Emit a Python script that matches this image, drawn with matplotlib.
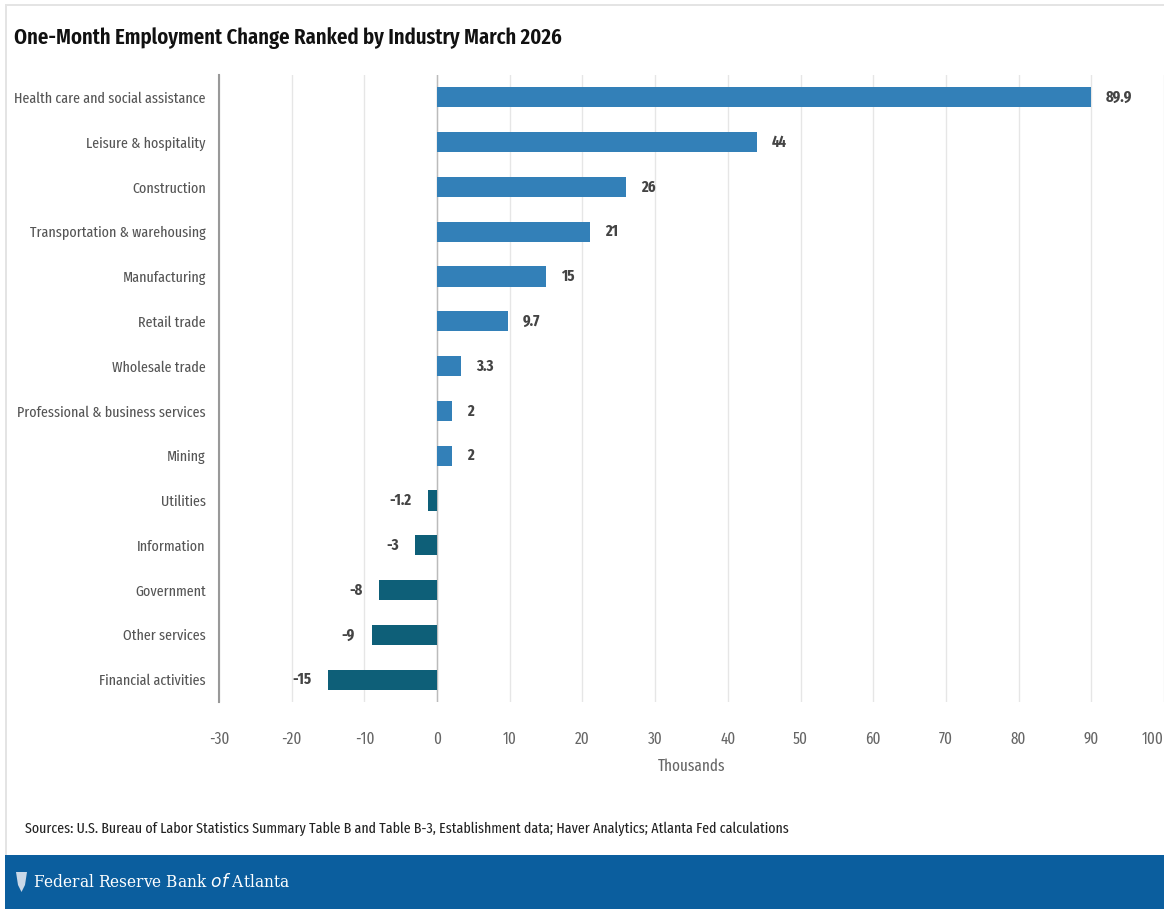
import matplotlib
matplotlib.use("Agg")
import matplotlib.pyplot as plt
from matplotlib.patches import Rectangle, Polygon

categories = ["Health care and social assistance", "Leisure & hospitality", "Construction",
              "Transportation & warehousing", "Manufacturing", "Retail trade", "Wholesale trade",
              "Professional & business services", "Mining", "Utilities", "Information",
              "Government", "Other services", "Financial activities"]
values = [89.9, 44, 26, 21, 15, 9.7, 3.3, 2, 2, -1.2, -3, -8, -9, -15]
value_labels = ["89.9", "44", "26", "21", "15", "9.7", "3.3", "2", "2", "-1.2", "-3", "-8", "-9", "-15"]
xticks = [-30, -20, -10, 0, 10, 20, 30, 40, 50, 60, 70, 80, 90, 100]

NARROW = ["Fira Sans Extra Condensed", "DejaVu Sans"]

W, H = 1164, 909
fig = plt.figure(figsize=(W / 100, H / 100), dpi=100)
fig.patch.set_facecolor("white")

ax = fig.add_axes([219 / W, 1 - 702 / H, (1164 - 219) / W, (702 - 75) / H])
pos_c = "#3380b8"
neg_c = "#0e5f78"
colors = [pos_c if v >= 0 else neg_c for v in values]
ypos = list(range(len(categories)))
ax.barh(ypos, values, height=0.45, color=colors, zorder=3)
ax.set_ylim(len(categories) - 0.5, -0.5)
ax.set_xlim(-30, 100)
ax.set_xticks(xticks)
ax.set_xticklabels([str(t) for t in xticks], family=NARROW, fontsize=11.8, color="#666666")
ax.get_xticklabels()[-1].set_horizontalalignment("right")
ax.tick_params(axis="x", length=0, pad=21)
ax.set_yticks(ypos)
ax.set_yticklabels(categories, family=NARROW, fontsize=11.0, color="#555555")
ax.tick_params(axis="y", length=0, pad=9.5)
ax.grid(axis="x", color="#e6e6e6", linewidth=1, zorder=0)
ax.axvline(0, color="#bbbbbb", linewidth=1, zorder=2)
for s in ["top", "right", "bottom"]:
    ax.spines[s].set_visible(False)
ax.spines["left"].set_color("#999999")
ax.spines["left"].set_linewidth(1.5)
ax.set_xlabel("Thousands", family=NARROW, fontsize=11.8, color="#666666", labelpad=8)

for y, v, lab in zip(ypos, values, value_labels):
    if v >= 0:
        ax.annotate(lab, (v, y), xytext=(11, 0), textcoords="offset points", ha="left", va="center",
                    family=NARROW, fontsize=11.5, fontweight="bold", color="#444444")
    else:
        ax.annotate(lab, (v, y), xytext=(-12, 0), textcoords="offset points", ha="right", va="center",
                    family=NARROW, fontsize=11.5, fontweight="bold", color="#444444")

fig.text(14 / W, 1 - 38 / H, "One-Month Employment Change Ranked by Industry March 2026",
         family=NARROW, fontsize=16.2, fontweight="semibold", color="#111111", va="center", ha="left")

fig.text(25 / W, 1 - 829 / H,
         "Sources: U.S. Bureau of Labor Statistics Summary Table B and Table B-3, Establishment data; Haver Analytics; Atlanta Fed calculations",
         family=NARROW, fontsize=10.9, color="#222222", va="center", ha="left")

# frame lines
fig.add_artist(Rectangle((5 / W, 0), 0.002, 1 - 6 / H, transform=fig.transFigure,
                         facecolor="#e4e4e4", edgecolor="none"))
fig.add_artist(Rectangle((5 / W, 1 - 6 / H), 1, 2 / H, transform=fig.transFigure,
                         facecolor="#e4e4e4", edgecolor="none"))
# footer band
fig.add_artist(Rectangle((5 / W, 0), 1, (909 - 855) / H, transform=fig.transFigure,
                         facecolor="#0b5e9e", edgecolor="none"))
# small logo shield
fig.add_artist(Polygon([(16 / W, 1 - 872 / H), (27 / W, 1 - 872 / H), (25 / W, 1 - 885 / H),
                        (21.5 / W, 1 - 892 / H), (18 / W, 1 - 885 / H)],
                       closed=True, transform=fig.transFigure, facecolor="#c9d8e8", edgecolor="none"))
fig.text(33 / W, 1 - 882 / H, "Federal Reserve Bank $\\mathit{of}$ Atlanta", family="DejaVu Serif",
         fontstretch="condensed", fontsize=12.3, color="white", va="center", ha="left")

fig.savefig("out.png", dpi=100, facecolor="white")
